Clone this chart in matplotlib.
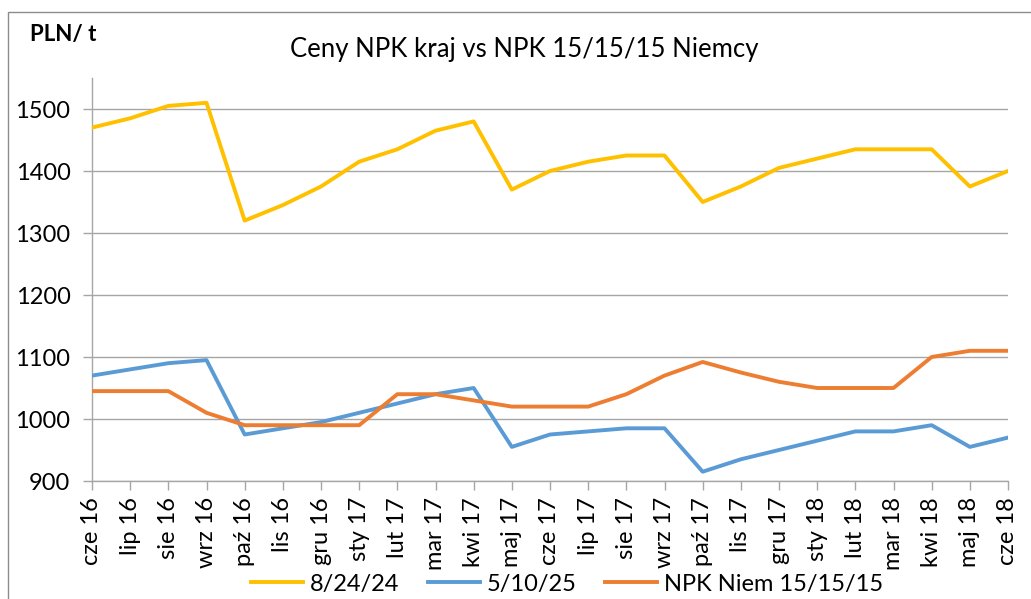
import matplotlib
matplotlib.use("Agg")
import matplotlib.pyplot as plt
from matplotlib.patches import Rectangle

plt.rcParams["font.family"] = ["Lato", "DejaVu Sans"]

months = ["cze 16", "lip 16", "sie 16", "wrz 16", "paź 16", "lis 16", "gru 16",
          "sty 17", "lut 17", "mar 17", "kwi 17", "maj 17", "cze 17", "lip 17",
          "sie 17", "wrz 17", "paź 17", "lis 17", "gru 17", "sty 18", "lut 18",
          "mar 18", "kwi 18", "maj 18", "cze 18"]
npk_8_24_24 = [1470, 1485, 1505, 1510, 1320, 1345, 1375, 1415, 1435, 1465, 1480,
               1370, 1400, 1415, 1425, 1425, 1350, 1375, 1405, 1420, 1435, 1435,
               1435, 1375, 1400]
npk_5_10_25 = [1070, 1080, 1090, 1095, 975, 985, 995, 1010, 1025, 1040, 1050,
               955, 975, 980, 985, 985, 915, 935, 950, 965, 980, 980, 990, 955, 970]
npk_niem = [1045, 1045, 1045, 1010, 990, 990, 990, 990, 1040, 1040, 1030, 1020,
            1020, 1020, 1040, 1070, 1092, 1075, 1060, 1050, 1050, 1050, 1100,
            1110, 1110]
yticks = [900, 1000, 1100, 1200, 1300, 1400, 1500]

C_Y = "#FFC000"
C_B = "#5B9BD5"
C_O = "#ED7D31"
C_GRID = "#A6A6A6"

fig = plt.figure(figsize=(10.31, 5.99), dpi=100)
W, H = 1031, 599
ax = fig.add_axes([92 / W, 1 - 481 / H, (1008 - 92) / W, (481 - 78) / H])

x = list(range(len(months)))
ax.plot(x, npk_8_24_24, color=C_Y, lw=2.8, label="8/24/24", zorder=3)
ax.plot(x, npk_5_10_25, color=C_B, lw=2.8, label="5/10/25", zorder=3)
ax.plot(x, npk_niem, color=C_O, lw=2.8, label="NPK Niem 15/15/15", zorder=3)

ax.set_xlim(0, len(months) - 1)
ax.set_ylim(900, 1550)
ax.set_yticks(yticks)
ax.set_xticks(x)
ax.set_xticklabels(months, rotation=90)
ax.tick_params(axis="both", labelsize=17, colors=C_GRID, labelcolor="black",
               length=6.5, width=1)
ax.tick_params(axis="y", pad=9)
ax.tick_params(axis="x", pad=5)
ax.yaxis.grid(True, color=C_GRID, lw=1)
ax.set_axisbelow(True)
for s in ["top", "right"]:
    ax.spines[s].set_visible(False)
for s in ["left", "bottom"]:
    ax.spines[s].set_color(C_GRID)
    ax.spines[s].set_linewidth(1)

fig.text(524 / W, 1 - 50 / H, "Ceny NPK kraj vs NPK 15/15/15 Niemcy",
         ha="center", va="center", fontsize=18.5)
fig.text(30 / W, 1 - 34 / H, "PLN/ t", ha="left", va="center",
         fontsize=16, fontweight="bold")

fig.legend(loc="center", bbox_to_anchor=(567 / W, 1 - 584 / H), ncol=3,
           frameon=False, fontsize=17, handlelength=2.2, handletextpad=0.3,
           columnspacing=1.2, borderaxespad=0)

fig.patches.append(Rectangle((8 / W, -0.1), 1.2, 1 - 12 / H + 0.1,
                             transform=fig.transFigure, fill=False,
                             edgecolor="#8C8C8C", lw=1))

fig.savefig("out.png", dpi=100)
